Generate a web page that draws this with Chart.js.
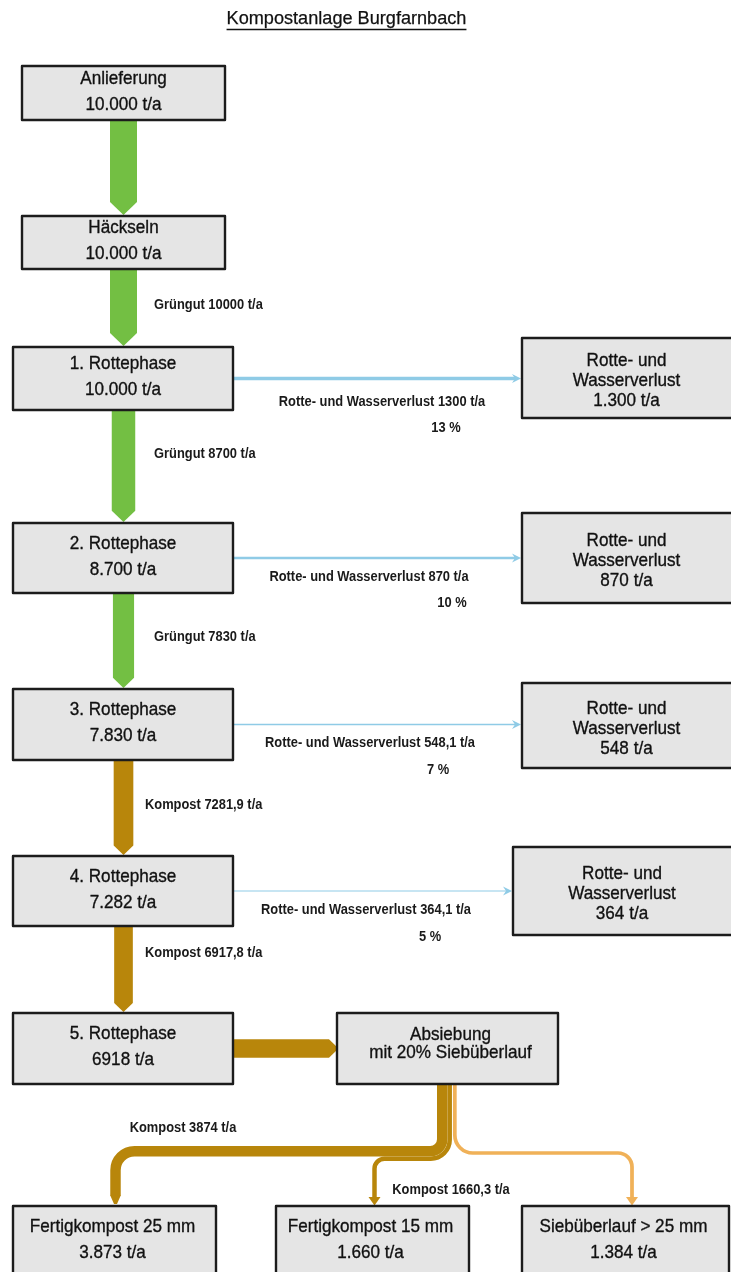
<!DOCTYPE html>
<html>
<head>
<meta charset="utf-8">
<script src="https://cdn.jsdelivr.net/npm/chart.js@4.4.1/dist/chart.umd.min.js"></script>
<style>
  html, body { margin: 0; padding: 0; background: #ffffff; }
  #c { display: block; }
</style>
</head>
<body>
<canvas id="c" width="731" height="1272"></canvas>
<script>
// ---------------- DATA ----------------
const chartTitle = "Kompostanlage Burgfarnbach";

const stageNames   = ["Anlieferung", "Häckseln", "1. Rottephase", "2. Rottephase", "3. Rottephase", "4. Rottephase", "5. Rottephase"];
const stageAmounts = ["10.000 t/a", "10.000 t/a", "10.000 t/a", "8.700 t/a", "7.830 t/a", "7.282 t/a", "6918 t/a"];

// flows between consecutive stages (t/a)
const mainFlowValues    = [10000, 10000, 8700, 7830, 7281.9, 6917.8];
const mainFlowMaterials = ["Grüngut", "Grüngut", "Grüngut", "Grüngut", "Kompost", "Kompost"];
const mainFlowLabeled   = [false, true, true, true, true, true];

// losses of Rottephase 1..4 (t/a)
const lossValues   = [1300, 870, 548.1, 364.1];
const lossAmounts  = ["1.300 t/a", "870 t/a", "548 t/a", "364 t/a"];
const lossPercents = [13, 10, 7, 5];

// sieving
const sieveInput   = 6918;
const sieveLines   = ["Absiebung", "mit 20% Siebüberlauf"];
const productNames   = ["Fertigkompost 25 mm", "Fertigkompost 15 mm", "Siebüberlauf > 25 mm"];
const productAmounts = ["3.873 t/a", "1.660 t/a", "1.384 t/a"];
const productFlowValues  = [3874, 1660.3, 1384];
const productFlowLabeled = [true, true, false];

// ---------------- LAYOUT (diagram units) ----------------
const FLOW_SCALE = 0.0027;           // diagram units per t/a
const mainColumnX = 123.5;
const stageBoxes = [[22,225,66,120],[22,225,216,269],[13,233,347,410],[13,233,523,593],[13,233,689,760],[13,233,856,926],[13,233,1013,1084]];
const lossBoxes  = [[522,734,338,418],[522,734,513,603],[522,734,683,768],[513,734,847,935]];
const sieveBox   = [337,558,1013,1084];
const productBoxes = [[13,216,1206,1290],[276,469,1206,1290],[522,729,1206,1290]];
const mainLabelPos = [null,[154,305],[154,454],[154,637],[145,805],[145,953]];
const lossLabelPos = [[382,402,446,428],[369,577,452,603],[370,743,438,770],[366,910,430,937]];
const productLabelPos = [[183,1128],[451,1190],null];

const COLORS = {
  Grüngut: "#73bf43",
  Kompost: "#b8860b",
  loss: "#8fcbe6",
  overflow: "#f0b158",
  boxFill: "#e5e5e5",
  boxLine: "#1c1c1c",
  text: "#111111"
};
const FONT = '"Liberation Sans", Arial, sans-serif';
const BOX_FONT = "19px " + FONT, BOX_SX = 0.9;
const LABEL_FONT = "bold 14px " + FONT, LABEL_SX = 0.92;
const TITLE_FONT = "18.5px " + FONT, TITLE_SX = 0.98;

function fmt(v) { return String(v).replace(".", ","); }

const flowPlugin = {
  id: "flowDiagram",
  afterDatasetsDraw(chart) {
    const ctx = chart.ctx;
    const xs = chart.scales.x, ys = chart.scales.y;
    const X = v => xs.getPixelForValue(v);
    const Y = v => ys.getPixelForValue(v);
    const W = t => Math.abs(xs.getPixelForValue(t * FLOW_SCALE) - xs.getPixelForValue(0));
    function text(s, px, py, font, sx, align, strokeW) {
      ctx.save();
      ctx.font = font;
      ctx.textAlign = align || "center";
      ctx.textBaseline = "middle";
      ctx.translate(px, py);
      ctx.scale(sx, 1);
      ctx.fillText(s, 0, 0);
      if (strokeW) { ctx.lineWidth = strokeW; ctx.strokeStyle = ctx.fillStyle; ctx.strokeText(s, 0, 0); }
      const w = ctx.measureText(s).width * sx;
      ctx.restore();
      return w;
    }
    ctx.save();

    // ---- title ----
    ctx.fillStyle = COLORS.text;
    const tx = X(346.5), ty = Y(19);
    const tw = text(chartTitle, tx, ty, TITLE_FONT, TITLE_SX, "center", 0.25);
    ctx.strokeStyle = COLORS.text;
    ctx.lineWidth = 1.3;
    ctx.beginPath();
    ctx.moveTo(tx - tw / 2, Y(29.5));
    ctx.lineTo(tx + tw / 2, Y(29.5));
    ctx.stroke();

    // ---- main vertical flows ----
    mainFlowValues.forEach((v, i) => {
      const w = W(v), head = w * 0.48;
      const cx = X(mainColumnX);
      const y1 = Y(stageBoxes[i][3]), y2 = Y(stageBoxes[i + 1][2]) - 1;
      ctx.fillStyle = COLORS[mainFlowMaterials[i]];
      ctx.beginPath();
      ctx.moveTo(cx - w / 2, y1);
      ctx.lineTo(cx + w / 2, y1);
      ctx.lineTo(cx + w / 2, y2 - head);
      ctx.lineTo(cx, y2);
      ctx.lineTo(cx - w / 2, y2 - head);
      ctx.closePath();
      ctx.fill();
    });

    // ---- 5. Rottephase -> Absiebung ----
    {
      const b = stageBoxes[6];
      const w = W(sieveInput), cy = Y((b[2] + b[3]) / 2);
      const x1 = X(b[1]), x2 = X(sieveBox[0]), head = 8;
      ctx.fillStyle = COLORS.Kompost;
      ctx.beginPath();
      ctx.moveTo(x1, cy - w / 2);
      ctx.lineTo(x2 - head, cy - w / 2);
      ctx.lineTo(x2, cy - 1.5);
      ctx.lineTo(x2, cy + 1.5);
      ctx.lineTo(x2 - head, cy + w / 2);
      ctx.lineTo(x1, cy + w / 2);
      ctx.closePath();
      ctx.fill();
    }

    // ---- loss arrows ----
    lossValues.forEach((v, i) => {
      const sb = stageBoxes[i + 2], lb = lossBoxes[i];
      const cy = Y((sb[2] + sb[3]) / 2);
      const x1 = X(sb[1]), tip = X(lb[0]) - 1;
      ctx.strokeStyle = COLORS.loss;
      ctx.fillStyle = COLORS.loss;
      ctx.lineWidth = Math.max(W(v), 1);
      ctx.beginPath();
      ctx.moveTo(x1, cy);
      ctx.lineTo(tip - 6, cy);
      ctx.stroke();
      ctx.beginPath();
      ctx.moveTo(tip - 9, cy - 4.5);
      ctx.lineTo(tip, cy);
      ctx.lineTo(tip - 9, cy + 4.5);
      ctx.lineTo(tip - 6, cy);
      ctx.closePath();
      ctx.fill();
    });

    // ---- sieve outputs ----
    {
      const w1 = W(productFlowValues[0]), w2 = W(productFlowValues[1]), w3 = W(productFlowValues[2]);
      const left = 437, top = 1146;
      const sb = sieveBox;
      ctx.lineCap = "butt";
      ctx.lineJoin = "round";
      // Fertigkompost 25 mm
      const c1x = left + w1 / 2, c1y = top + w1 / 2, dx1 = productBoxes[0][0] + (productBoxes[0][1] - productBoxes[0][0]) / 2 + 1;
      ctx.strokeStyle = COLORS.Kompost;
      ctx.lineWidth = w1;
      ctx.beginPath();
      ctx.moveTo(X(c1x), Y(sb[3]));
      ctx.arcTo(X(c1x), Y(c1y), X(dx1), Y(c1y), 12);
      ctx.arcTo(X(dx1), Y(c1y), X(dx1), Y(1196), 19);
      ctx.lineTo(X(dx1), Y(1196));
      ctx.stroke();
      ctx.fillStyle = COLORS.Kompost;
      ctx.beginPath();
      ctx.moveTo(X(dx1 - w1 / 2), Y(1195.5));
      ctx.lineTo(X(dx1 + w1 / 2), Y(1195.5));
      ctx.lineTo(X(dx1 + 1.5), Y(1204));
      ctx.lineTo(X(dx1 - 1.5), Y(1204));
      ctx.closePath();
      ctx.fill();
      // Fertigkompost 15 mm
      const c2x = left + w1 + w2 / 2, c2y = top + w1 + w2 / 2, dx2 = 374.5;
      ctx.lineWidth = w2;
      ctx.beginPath();
      ctx.moveTo(X(c2x), Y(sb[3]));
      ctx.arcTo(X(c2x), Y(c2y), X(dx2), Y(c2y), 19);
      ctx.arcTo(X(dx2), Y(c2y), X(dx2), Y(1198), 10);
      ctx.lineTo(X(dx2), Y(1198));
      ctx.stroke();
      ctx.beginPath();
      ctx.moveTo(X(dx2 - 6), Y(1197));
      ctx.lineTo(X(dx2 + 6), Y(1197));
      ctx.lineTo(X(dx2), Y(1205.5));
      ctx.closePath();
      ctx.fill();
      // Siebüberlauf
      const c3x = left + w1 + w2 + 1 + w3 / 2, c3y = 1153, dx3 = 632;
      ctx.strokeStyle = COLORS.overflow;
      ctx.fillStyle = COLORS.overflow;
      ctx.lineWidth = w3;
      ctx.beginPath();
      ctx.moveTo(X(c3x), Y(sb[3]));
      ctx.arcTo(X(c3x), Y(c3y), X(dx3), Y(c3y), 18);
      ctx.arcTo(X(dx3), Y(c3y), X(dx3), Y(1198), 14);
      ctx.lineTo(X(dx3), Y(1198));
      ctx.stroke();
      ctx.beginPath();
      ctx.moveTo(X(dx3 - 6), Y(1197));
      ctx.lineTo(X(dx3 + 6), Y(1197));
      ctx.lineTo(X(dx3), Y(1205.5));
      ctx.closePath();
      ctx.fill();
    }

    // ---- boxes ----
    function box(b) {
      const x1 = X(b[0]), x2 = X(b[1]), y1 = Y(b[2]), y2 = Y(b[3]);
      ctx.fillStyle = COLORS.boxFill;
      ctx.fillRect(x1, y1, x2 - x1, y2 - y1);
      ctx.strokeStyle = COLORS.boxLine;
      ctx.lineWidth = 2.4;
      ctx.strokeRect(x1, y1, x2 - x1, y2 - y1);
    }
    function lines(arr, cx, cy, gap) {
      const n = arr.length;
      arr.forEach((s, k) => text(s, X(cx), Y(cy + (k - (n - 1) / 2) * gap), BOX_FONT, BOX_SX, "center", 0.35));
    }
    stageBoxes.forEach(box);
    lossBoxes.forEach(box);
    box(sieveBox);
    productBoxes.forEach(box);

    ctx.fillStyle = COLORS.text;
    stageBoxes.forEach((b, i) => {
      lines([stageNames[i], stageAmounts[i]], (b[0] + b[1]) / 2, (b[2] + b[3]) / 2 - 1.5, 26);
    });
    lossBoxes.forEach((b, i) => {
      lines(["Rotte- und", "Wasserverlust", lossAmounts[i]], (b[0] + 731) / 2, (b[2] + b[3]) / 2 + 3, 20);
    });
    lines(sieveLines, (sieveBox[0] + sieveBox[1]) / 2 + 3, (sieveBox[2] + sieveBox[3]) / 2 - 4.5, 18);
    productBoxes.forEach((b, i) => {
      lines([productNames[i], productAmounts[i]], (b[0] + b[1]) / 2 - 2, 1240, 26);
    });

    // ---- flow labels ----
    ctx.fillStyle = "#1a1a1a";
    mainFlowValues.forEach((v, i) => {
      if (!mainFlowLabeled[i]) return;
      const p = mainLabelPos[i];
      text(mainFlowMaterials[i] + " " + fmt(v) + " t/a", X(p[0]), Y(p[1]), LABEL_FONT, LABEL_SX, "left");
    });
    lossValues.forEach((v, i) => {
      const p = lossLabelPos[i];
      text("Rotte- und Wasserverlust " + fmt(v) + " t/a", X(p[0]), Y(p[1]), LABEL_FONT, LABEL_SX, "center");
      text(lossPercents[i] + " %", X(p[2]), Y(p[3]), LABEL_FONT, LABEL_SX, "center");
    });
    productFlowValues.forEach((v, i) => {
      if (!productFlowLabeled[i]) return;
      const p = productLabelPos[i];
      text("Kompost " + fmt(v) + " t/a", X(p[0]), Y(p[1]), LABEL_FONT, LABEL_SX, "center");
    });

    ctx.restore();
  }
};

new Chart(document.getElementById("c"), {
  type: "scatter",
  data: { datasets: [{ data: [], showLine: false }] },
  options: {
    responsive: false,
    animation: false,
    events: [],
    layout: { padding: 0 },
    plugins: { legend: { display: false }, tooltip: { enabled: false }, title: { display: false } },
    scales: {
      x: { type: "linear", min: 0, max: 731, display: false },
      y: { type: "linear", min: 0, max: 1272, reverse: true, display: false }
    }
  },
  plugins: [flowPlugin]
});
</script>
</body>
</html>
